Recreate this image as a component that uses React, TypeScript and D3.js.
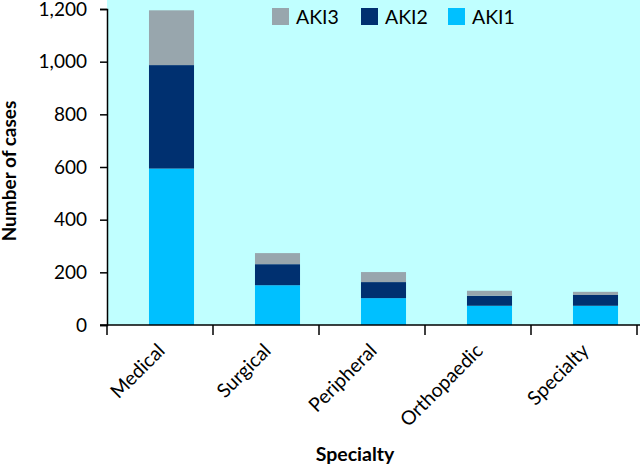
import React, { useEffect, useRef } from "react";
import * as d3 from "d3";

const categories = ["Medical", "Surgical", "Peripheral", "Orthopaedic", "Specialty"];
const aki1 = [594, 151, 102, 73, 73];
const aki2 = [393, 80, 61, 38, 41];
const aki3 = [208, 42, 38, 19, 12];
const seriesNames = ["AKI1", "AKI2", "AKI3"];
const seriesColors = ["#00C0FF", "#003070", "#98A6AD"];
const legendOrder = ["AKI3", "AKI2", "AKI1"];
const yTicks = [0, 200, 400, 600, 800, 1000, 1200];

const W = 640;
const H = 468;
const FONT = "Lato, 'Open Sans', sans-serif";

export default function App() {
  const ref = useRef<SVGSVGElement | null>(null);

  useEffect(() => {
    const svg = d3.select(ref.current);
    svg.selectAll("*").remove();

    const left = 107;
    const right = 637;
    const top = 9;
    const bottom = 325;

    const rows = categories.map((c, i) => ({
      cat: c,
      AKI1: aki1[i],
      AKI2: aki2[i],
      AKI3: aki3[i],
    }));

    const x = d3.scaleBand<string>().domain(categories).range([left, right]).padding(0);
    const y = d3.scaleLinear().domain([0, 1200]).range([bottom, top]);
    const color = d3.scaleOrdinal<string, string>().domain(seriesNames).range(seriesColors);

    // plot background
    svg
      .append("rect")
      .attr("x", left)
      .attr("y", 0)
      .attr("width", W - left)
      .attr("height", bottom)
      .attr("fill", "#C0FFFF");

    const stack = d3.stack<any>().keys(seriesNames);
    const stacked = stack(rows);

    const step = x.step();
    const barOffset = step * 0.396;
    const barW = step * 0.425;

    svg
      .append("g")
      .selectAll("g")
      .data(stacked)
      .join("g")
      .attr("fill", (d) => color(d.key))
      .selectAll("rect")
      .data((d) => d)
      .join("rect")
      .attr("x", (d: any) => (x(d.data.cat) as number) + barOffset)
      .attr("width", barW)
      .attr("y", (d) => y(d[1]))
      .attr("height", (d) => y(d[0]) - y(d[1]));

    // y axis
    const yAxis = svg
      .append("g")
      .attr("transform", `translate(${left},0)`)
      .call(
        d3
          .axisLeft(y)
          .tickValues(yTicks)
          .tickSize(7)
          .tickPadding(13)
          .tickFormat((d) => d3.format(",")(d as number))
      );
    yAxis.select(".domain").attr("stroke", "#000").attr("stroke-width", 1.5);
    yAxis.selectAll(".tick line").attr("stroke", "#000").attr("stroke-width", 1.5);
    yAxis
      .selectAll(".tick text")
      .attr("font-family", FONT)
      .attr("font-size", 19)
      .attr("fill", "#000");

    // x axis
    const xAxis = svg
      .append("g")
      .attr("transform", `translate(0,${bottom})`)
      .call(d3.axisBottom(x).tickSize(0).tickFormat(() => ""));
    xAxis.select(".domain").attr("stroke", "#000").attr("stroke-width", 1.5).attr("d", `M${left - 7},0H${W}`);
    xAxis.selectAll(".tick").remove();

    const boundaries = [...categories.map((c) => x(c) as number), right];
    svg
      .append("g")
      .selectAll("line")
      .data(boundaries)
      .join("line")
      .attr("x1", (d) => d)
      .attr("x2", (d) => d)
      .attr("y1", bottom)
      .attr("y2", bottom + 10)
      .attr("stroke", "#000")
      .attr("stroke-width", 1.5);

    // category labels
    svg
      .append("g")
      .selectAll("text")
      .data(categories)
      .join("text")
      .attr(
        "transform",
        (d) => `translate(${(x(d) as number) + step / 2 + 6},${bottom + 27}) rotate(-45)`
      )
      .attr("text-anchor", "end")
      .attr("font-family", FONT)
      .attr("font-size", 19.5)
      .attr("fill", "#000")
      .text((d) => d);

    // axis titles
    svg
      .append("text")
      .attr("x", 355)
      .attr("y", 461)
      .attr("text-anchor", "middle")
      .attr("font-family", FONT)
      .attr("font-size", 19.5)
      .attr("font-weight", "bold")
      .attr("fill", "#000")
      .text("Specialty");

    svg
      .append("text")
      .attr("transform", "translate(16,171) rotate(-90)")
      .attr("text-anchor", "middle")
      .attr("font-family", FONT)
      .attr("font-size", 19)
      .attr("font-weight", "bold")
      .attr("fill", "#000")
      .text("Number of cases");

    // legend
    const legendX = [272, 361, 448];
    const lg = svg
      .append("g")
      .selectAll("g")
      .data(legendOrder)
      .join("g")
      .attr("transform", (_d, i) => `translate(${legendX[i]},8)`);
    lg.append("rect").attr("width", 17).attr("height", 17).attr("fill", (d) => color(d));
    lg.append("text")
      .attr("x", 24)
      .attr("y", 16)
      .attr("font-family", FONT)
      .attr("font-size", 19.5)
      .attr("fill", "#000")
      .text((d) => d);
  }, []);

  return (
    <svg
      ref={ref}
      width={W}
      height={H}
      style={{ position: "absolute", left: 0, top: 0, display: "block", background: "#fff" }}
    />
  );
}
